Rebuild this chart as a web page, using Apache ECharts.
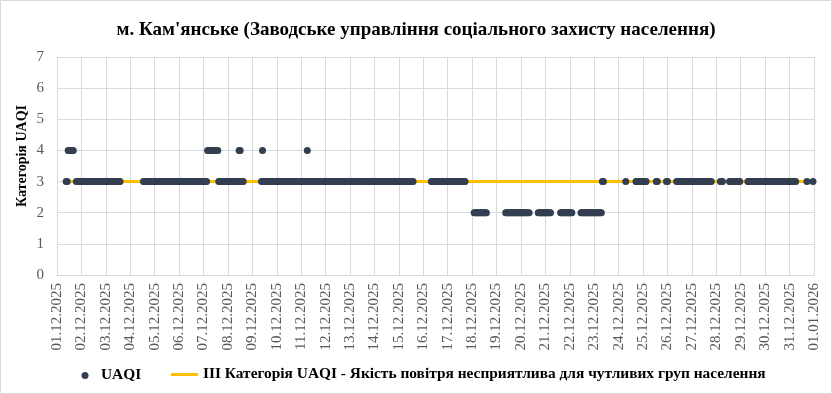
<!DOCTYPE html>
<html>
<head>
<meta charset="utf-8">
<script src="https://cdn.jsdelivr.net/npm/echarts@6/dist/echarts.min.js"></script>
<style>
  html, body { margin: 0; padding: 0; background: #fff; }
  #chart { width: 832px; height: 394px; }
</style>
</head>
<body>
<div id="chart"></div>
<script>
// Tick labels (one per day, 24 hourly steps apart)
const dateLabels = [
  '01.12.2025','02.12.2025','03.12.2025','04.12.2025','05.12.2025','06.12.2025','07.12.2025','08.12.2025',
  '09.12.2025','10.12.2025','11.12.2025','12.12.2025','13.12.2025','14.12.2025','15.12.2025','16.12.2025',
  '17.12.2025','18.12.2025','19.12.2025','20.12.2025','21.12.2025','22.12.2025','23.12.2025','24.12.2025',
  '25.12.2025','26.12.2025','27.12.2025','28.12.2025','29.12.2025','30.12.2025','31.12.2025','01.01.2026'
];

// Hourly UAQI category per day (hours 00..23), '.' = no measurement
const uaqiByDay = [
  '.........33444444..33333', // 01.12
  '333333333333333333333333', // 02.12
  '333333333333333.........', // 03.12
  '.............33333333333', // 04.12
  '333333333333333333333333', // 05.12
  '333333333333333333333333', // 06.12
  '333344444444444333333333', // 07.12
  '3333333333344333........', // 08.12
  '.........343333333333333', // 09.12
  '333333333333333333333333', // 10.12
  '333333433333333333333333', // 11.12
  '333333333333333333333333', // 12.12
  '333333333333333333333333', // 13.12
  '333333333333333333333333', // 14.12
  '333333333333333.........', // 15.12
  '........3333333333333333', // 16.12
  '333333333333333333......', // 17.12
  '..2222222222222.........', // 18.12
  '.........222222222222222', // 19.12
  '222222222........2222222', // 20.12
  '222222.........222222222', // 21.12
  '222........2222222222222', // 22.12
  '2222222233..............', // 23.12
  '.......3.........3333333', // 24.12
  '3333.........33........3', // 25.12
  '3........333333333333333', // 26.12
  '33333333333333333333....', // 27.12
  '....333......33333333333', // 28.12
  '.......33333333333333333', // 29.12
  '333333333333333333333333', // 30.12
  '3333333..........3.....3'  // 31.12
];

const thresholdCategory = 3;
const seriesNames = ['UAQI', 'III Категорія UAQI - Якість повітря несприятлива для чутливих груп населення'];

const uaqiPoints = [];
uaqiByDay.forEach(function (dayStr, d) {
  for (let h = 0; h < 24; h++) {
    const ch = dayStr.charAt(h);
    if (ch && ch !== '.') uaqiPoints.push([d * 24 + h, Number(ch)]);
  }
});
const firstHour = uaqiPoints[0][0];
const lastHour = uaqiPoints[uaqiPoints.length - 1][0];
const thresholdPoints = [[firstHour, thresholdCategory], [lastHour, thresholdCategory]];

const serif = "'Liberation Serif', 'Times New Roman', serif";
const chart = echarts.init(document.getElementById('chart'));
chart.setOption({
  animation: false,
  backgroundColor: '#ffffff',
  title: {
    text: 'м. Кам\'янське (Заводське управління соціального захисту населення)',
    left: 'center',
    top: 16,
    textStyle: { fontFamily: serif, fontSize: 19, fontWeight: 'bold', color: '#000' }
  },
  graphic: [{
    type: 'rect', silent: true, z: -1,
    shape: { x: 0.5, y: 0.5, width: 831, height: 393 },
    style: { fill: 'none', stroke: '#D9D9D9', lineWidth: 1 }
  }],
  legend: [
    {
      data: [{ name: seriesNames[0], icon: 'circle' }],
      left: 76.5, top: 363,
      itemWidth: 22, itemHeight: 7,
      textStyle: { fontFamily: serif, fontSize: 15.4, fontWeight: 'bold', color: '#000' }
    },
    {
      data: [{ name: seriesNames[1], icon: 'rect' }],
      left: 166, top: 362,
      itemWidth: 27, itemHeight: 3,
      textStyle: { fontFamily: serif, fontSize: 15.4, fontWeight: 'bold', color: '#000' }
    }
  ],
  grid: { left: 57, right: 18, top: 57, bottom: 119, containLabel: false },
  xAxis: {
    type: 'value', min: 0, max: 744, interval: 24,
    axisLine: { show: true, lineStyle: { color: '#D9D9D9' } },
    axisTick: { show: false },
    splitLine: { show: true, lineStyle: { color: '#D9D9D9', width: 1 } },
    axisLabel: {
      rotate: 90, margin: 8, fontFamily: serif, fontSize: 15, color: '#595959',
      formatter: function (v) { return dateLabels[Math.round(v / 24)]; }
    }
  },
  yAxis: {
    type: 'value', min: 0, max: 7, interval: 1,
    name: 'Категорія UAQI', nameLocation: 'middle', nameGap: 28, nameMoveOverlap: false,
    nameTextStyle: { fontFamily: serif, fontSize: 14, fontWeight: 'bold', color: '#000', padding: [0, 0, 0, 20] },
    axisLine: { show: true, lineStyle: { color: '#D9D9D9' } },
    axisTick: { show: false },
    splitLine: { show: true, lineStyle: { color: '#D5DBE3', width: 1 } },
    axisLabel: { margin: 13, fontFamily: serif, fontSize: 15, color: '#595959' }
  },
  series: [
    {
      name: seriesNames[1], type: 'line', data: thresholdPoints,
      showSymbol: false, symbol: 'none', z: 2,
      lineStyle: { color: '#FFC000', width: 3 }, itemStyle: { color: '#FFC000' }
    },
    {
      name: seriesNames[0], type: 'scatter', data: uaqiPoints,
      symbolSize: 7, z: 3,
      itemStyle: { color: '#333F50', opacity: 1 }
    }
  ]
});
</script>
</body>
</html>
